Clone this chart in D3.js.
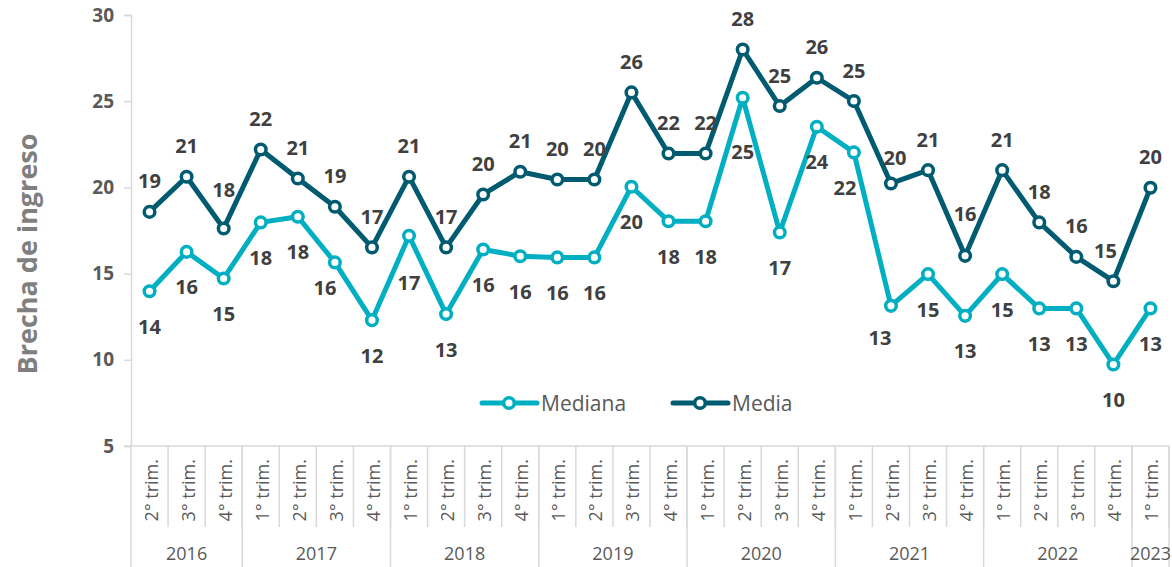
<!DOCTYPE html>
<html>
<head>
<meta charset="utf-8">
<script src="https://cdn.jsdelivr.net/npm/d3@7"></script>
<style>
  body { margin: 0; background: #fff; }
  text { font-family: "Open Sans", "Liberation Sans", sans-serif; }
</style>
</head>
<body>
<div id="chart"></div>
<script>
// quarter labels, one per point
var quarters = ["2° trim.", "3° trim.", "4° trim.",
  "1° trim.", "2° trim.", "3° trim.", "4° trim.",
  "1° trim.", "2° trim.", "3° trim.", "4° trim.",
  "1° trim.", "2° trim.", "3° trim.", "4° trim.",
  "1° trim.", "2° trim.", "3° trim.", "4° trim.",
  "1° trim.", "2° trim.", "3° trim.", "4° trim.",
  "1° trim.", "2° trim.", "3° trim.", "4° trim.",
  "1° trim."];
var yearLabels = ["2016", "2017", "2018", "2019", "2020", "2021", "2022", "2023"];
var yearCounts = [3, 4, 4, 4, 4, 4, 4, 1];

var mediana = [13.98, 16.26, 14.72, 17.97, 18.3, 15.65, 12.3, 17.19, 12.65, 16.4, 16.01, 15.94, 15.94, 20.04,
  18.04, 18.04, 25.2, 17.39, 23.52, 22.03, 13.13, 14.97, 12.55, 14.97, 12.98, 12.98, 9.73, 12.98];
var media = [18.58, 20.62, 17.62, 22.2, 20.52, 18.88, 16.52, 20.62, 16.52, 19.59, 20.91, 20.46, 20.46, 25.51,
  21.97, 21.97, 28.0, 24.72, 26.36, 25.01, 20.23, 21.0, 16.03, 21.0, 17.97, 15.97, 14.56, 19.98];
var yTicks = [5, 10, 15, 20, 25, 30];

var svgWidth = 1172, svgHeight = 567;
var margin = { top: 15, left: 131, right: 3, bottom: 121 };
var width = svgWidth - margin.left - margin.right;
var height = svgHeight - margin.top - margin.bottom;

var colMediana = "#00afc2", colMedia = "#005b71";
var gridCol = "#d9d9d9", textCol = "#595959", labelCol = "#404040";

var svg = d3.select("#chart").append("svg")
  .attr("width", svgWidth)
  .attr("height", svgHeight);

var g = svg.append("g")
  .attr("transform", `translate(${margin.left}, ${margin.top})`);

var idx = d3.range(quarters.length);
var xScale = d3.scalePoint().domain(idx).range([0, width]).padding(0.5);
var step = xScale.step();
var yScale = d3.scaleLinear().domain([5, 30]).range([height, 0]);

// y axis
var yAxis = g.append("g")
  .call(d3.axisLeft(yScale).tickValues(yTicks).tickSize(7).tickPadding(10));
yAxis.select(".domain").attr("stroke", gridCol).attr("stroke-width", 1.5);
yAxis.selectAll(".tick line").attr("stroke", gridCol).attr("stroke-width", 1.5);
yAxis.selectAll(".tick text")
  .attr("font-size", "19px")
  .attr("font-weight", "bold")
  .attr("fill", textCol);

// category axis (two levels)
var catArea = g.append("g").attr("transform", `translate(0, ${height})`);
catArea.append("line")
  .attr("x1", -7).attr("x2", width)
  .attr("stroke", gridCol).attr("stroke-width", 1.5);

var qRow = 81, yRow = svgHeight - margin.top - height;
idx.forEach(function(i) {
  catArea.append("line")
    .attr("x1", xScale(i) + step / 2).attr("x2", xScale(i) + step / 2)
    .attr("y1", 0).attr("y2", qRow)
    .attr("stroke", gridCol).attr("stroke-width", 1.5);
  catArea.append("text")
    .attr("transform", `translate(${xScale(i) + 1}, 13) rotate(-90)`)
    .attr("text-anchor", "end")
    .attr("dominant-baseline", "central")
    .attr("font-size", "18px")
    .attr("fill", textCol)
    .text(quarters[i]);
});

var start = 0;
catArea.append("line")
  .attr("x1", 0).attr("x2", 0).attr("y1", 0).attr("y2", yRow)
  .attr("stroke", gridCol).attr("stroke-width", 1.5);
yearLabels.forEach(function(yr, k) {
  var n = yearCounts[k];
  var x0 = xScale(start) - step / 2;
  var x1 = xScale(start + n - 1) + step / 2;
  catArea.append("line")
    .attr("x1", x1).attr("x2", x1).attr("y1", 0).attr("y2", yRow)
    .attr("stroke", gridCol).attr("stroke-width", 1.5);
  catArea.append("text")
    .attr("x", (x0 + x1) / 2)
    .attr("y", 107)
    .attr("text-anchor", "middle")
    .attr("dominant-baseline", "central")
    .attr("font-size", "18px")
    .attr("fill", textCol)
    .text(yr);
  start += n;
});

// y axis title
svg.append("text")
  .attr("transform", `translate(26, 254) rotate(-90)`)
  .attr("text-anchor", "middle")
  .attr("dominant-baseline", "central")
  .attr("font-size", "27px")
  .attr("font-weight", "bold")
  .attr("fill", "#7f7f7f")
  .text("Brecha de ingreso");

// series
var line = d3.line()
  .x(function(d, i) { return xScale(i); })
  .y(function(d) { return yScale(d); });

function drawSeries(values, color, labelDy, nudges) {
  g.append("path")
    .datum(values)
    .attr("fill", "none")
    .attr("stroke", color)
    .attr("stroke-width", 5)
    .attr("stroke-linejoin", "round")
    .attr("d", line);

  g.selectAll(null)
    .data(values)
    .enter()
    .append("circle")
    .attr("cx", function(d, i) { return xScale(i); })
    .attr("cy", function(d) { return yScale(d); })
    .attr("r", 5.3)
    .attr("fill", "#fff")
    .attr("stroke", color)
    .attr("stroke-width", 3.5);

  g.selectAll(null)
    .data(values)
    .enter()
    .append("text")
    .attr("x", function(d, i) { return xScale(i) + (nudges[i] ? nudges[i][0] : 0); })
    .attr("y", function(d, i) { return yScale(d) + labelDy + (nudges[i] ? nudges[i][1] : 0); })
    .attr("text-anchor", "middle")
    .attr("dominant-baseline", "central")
    .attr("font-size", "20px")
    .attr("font-weight", "bold")
    .attr("fill", labelCol)
    .text(function(d) { return Math.round(d); });
}

drawSeries(mediana, colMediana, 35, { 5: [-10, -10], 7: [0, 12], 16: [0, 19], 19: [-9, 0], 20: [-11, -3] });
drawSeries(media, colMedia, -31, { 2: [0, -8], 20: [4, 5], 22: [0, -11], 26: [-8, 0] });

// legend
var legend = svg.append("g").attr("transform", "translate(0, 403)");
[["Mediana", colMediana, 482], ["Media", colMedia, 673]].forEach(function(item) {
  var lx = item[2];
  legend.append("line")
    .attr("x1", lx).attr("x2", lx + 55)
    .attr("stroke", item[1]).attr("stroke-width", 5)
    .attr("stroke-linecap", "round");
  legend.append("circle")
    .attr("cx", lx + 27).attr("r", 5.3)
    .attr("fill", "#fff").attr("stroke", item[1]).attr("stroke-width", 3.5);
  legend.append("text")
    .attr("x", lx + 59)
    .attr("dominant-baseline", "central")
    .attr("font-size", "21px")
    .attr("fill", textCol)
    .text(item[0]);
});
</script>
</body>
</html>
